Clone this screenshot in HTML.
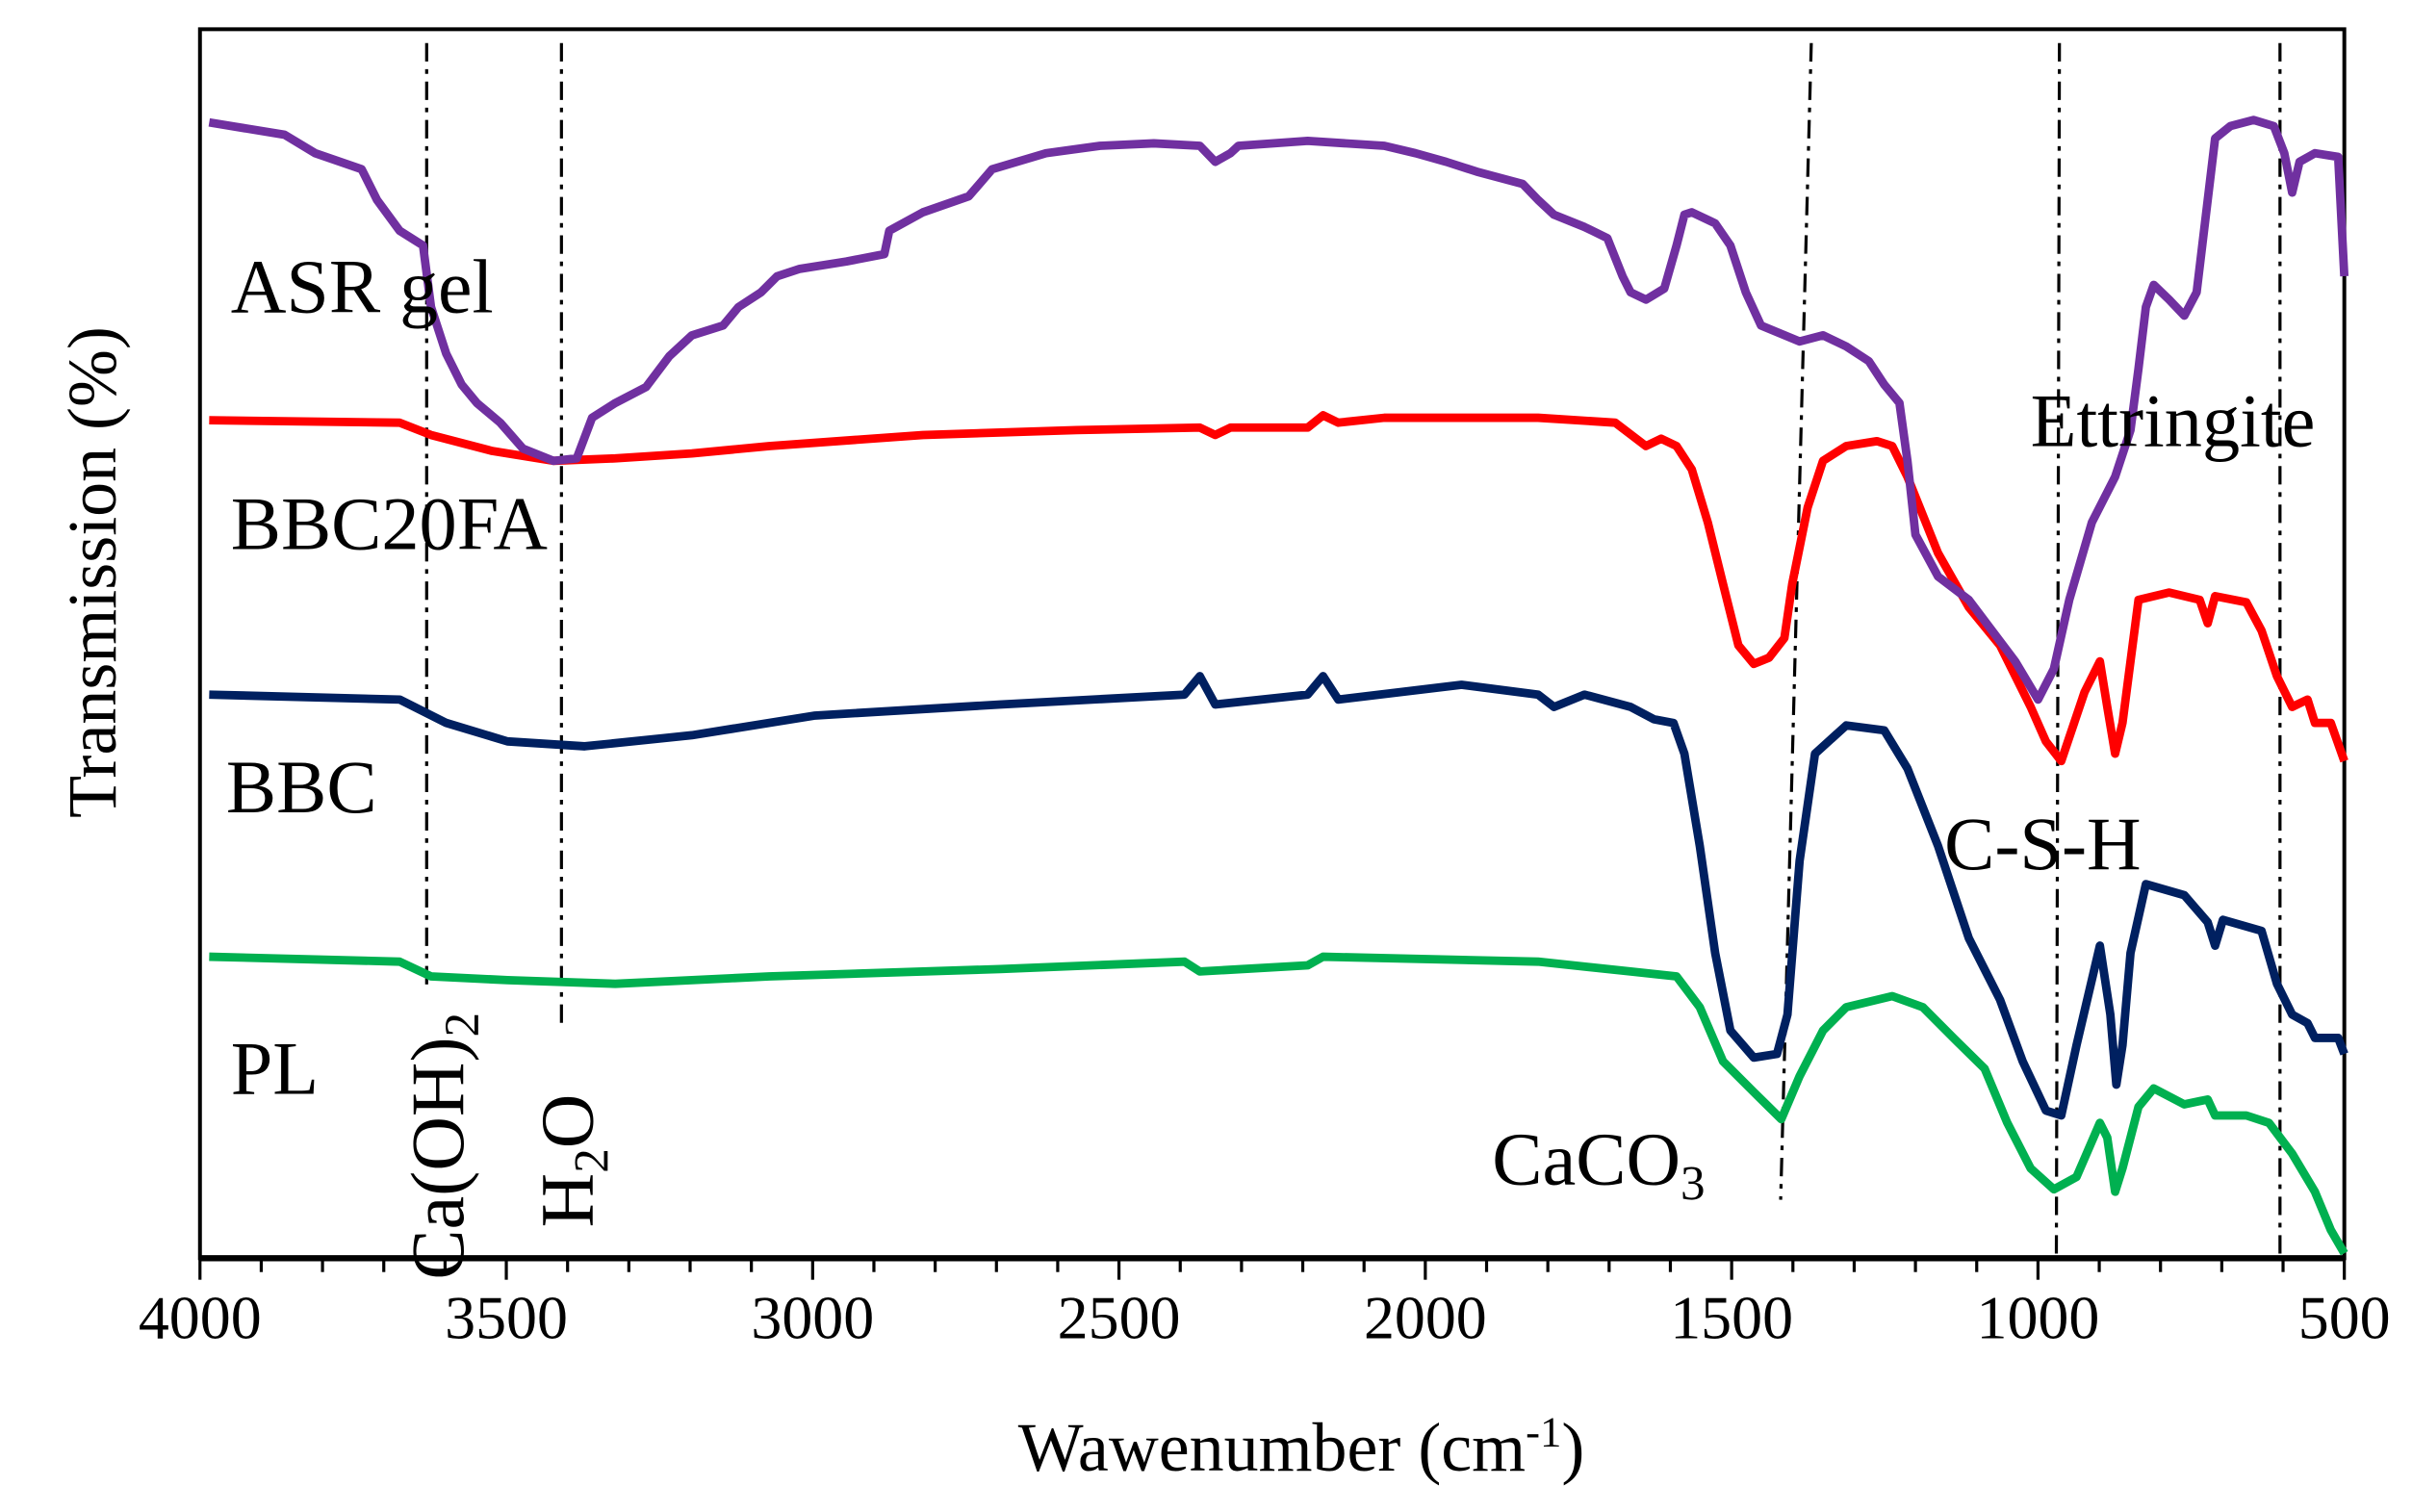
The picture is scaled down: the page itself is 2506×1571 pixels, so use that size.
<!DOCTYPE html>
<html><head><meta charset="utf-8"><style>
html,body{margin:0;padding:0;background:#fff;}
svg{display:block;}
text{font-family:"Liberation Serif",serif;fill:#000;}
</style></head><body>
<svg id="chart" width="2506" height="1571" viewBox="0 0 1568 983" preserveAspectRatio="none" xmlns="http://www.w3.org/2000/svg">
<rect x="130" y="19" width="1394" height="799" fill="none" stroke="#000" stroke-width="2.5"/>
<line x1="130" y1="818" x2="1524" y2="818" stroke="#000" stroke-width="4"/>
<g id="ticks"></g>
<g id="refs"></g>
<g id="series"></g>
<text x="150" y="203" font-size="50">ASR gel</text>
<text x="150" y="357" font-size="49">BBC20FA</text>
<text x="147" y="528" font-size="49">BBC</text>
<text x="150" y="711" font-size="49">PL</text>
<text x="1320" y="290" font-size="49">Ettringite</text>
<text x="1264" y="565" font-size="49">C-S-H</text>
<text x="970" y="770" font-size="49">CaCO<tspan font-size="32" dy="10">3</tspan></text>
<text transform="translate(301,832) rotate(-90)" font-size="49">Ca(OH)<tspan font-size="32" dy="10">2</tspan></text>
<text transform="translate(385,798) rotate(-90)" font-size="49">H<tspan font-size="32" dy="10">2</tspan><tspan dy="-10">O</tspan></text>
<text transform="translate(75,372) rotate(-90)" font-size="45" text-anchor="middle">Transmission (%)</text>
<text x="846" y="956" font-size="45" text-anchor="middle">Wawenumber (cm<tspan font-size="28" dy="-16">-1</tspan><tspan dy="16">)</tspan></text>
</svg>
<script>
const tickValues = [4000, 3500, 3000, 2500, 2000, 1500, 1000, 500];
const seriesNames = ["ASR gel", "BBC20FA", "BBC", "PL"];
const seriesColors = ["#7030A0", "#FF0000", "#002060", "#00B050"];
const asrWn = [3985,3862,3812,3736,3711,3674,3636,3623,3598,3573,3548,3510,3473,3423,3385,3360,3322,3272,3234,3197,3146,3121,3084,3058,3021,2945,2883,2875,2820,2745,2707,2619,2531,2443,2368,2343,2318,2305,2192,2067,2016,1966,1916,1841,1816,1790,1740,1703,1678,1665,1640,1610,1590,1577,1565,1527,1502,1477,1452,1389,1351,1313,1276,1251,1226,1213,1200,1163,1113,1075,1037,1000,974,949,912,874,849,836,824,811,786,761,741,723,711,686,648,615,598,585,573,548,510,500];
const asrT = [92.3,91.3,89.8,88.5,86,83.5,82.3,77.3,73.5,71,69.5,67.9,65.8,64.8,65,68.3,69.5,70.8,73.3,75,75.8,77.3,78.5,79.8,80.4,81,81.6,83.5,85,86.3,88.5,89.8,90.4,90.6,90.4,89.1,89.8,90.4,90.8,90.4,89.8,89.1,88.3,87.3,86,84.8,83.8,82.9,79.8,78.5,77.9,78.8,82.3,84.8,85,84.1,82.3,78.5,75.8,74.5,75,74.1,72.9,71,69.5,64.8,58.8,55.4,53.5,51,48.5,45.4,47.9,53.5,59.8,63.5,67.3,72.3,77.3,79.1,77.9,76.6,78.5,86,91,92,92.5,92,89.8,86.6,89.1,89.8,89.5,79.8];
const fa20Wn = [3985,3674,3623,3523,3423,3322,3197,3071,2820,2569,2368,2343,2318,2192,2167,2142,2067,1941,1816,1690,1640,1615,1590,1565,1539,1514,1489,1464,1439,1414,1401,1376,1351,1313,1263,1238,1213,1163,1113,1062,1012,987,962,924,899,887,874,862,849,836,786,736,723,711,660,635,610,585,560,548,522,500];
const fa20T = [68.1,67.9,66.9,65.6,64.8,65,65.4,66,66.9,67.3,67.5,66.9,67.5,67.5,68.5,67.9,68.3,68.3,68.3,67.9,66,66.6,66,64.1,59.8,54.8,49.8,48.3,48.8,50.4,54.8,61,64.8,66,66.4,66,63.5,57.3,52.9,49.8,44.8,42,40.4,46,48.5,44.8,41,43.5,48.5,53.5,54.1,53.5,51.6,53.8,53.3,51,47.3,44.8,45.4,43.5,43.5,40.4];
const bbcWn = [3985,3674,3598,3498,3372,3197,2996,2694,2393,2368,2343,2192,2167,2142,1941,1816,1790,1740,1665,1627,1595,1577,1552,1527,1502,1464,1426,1409,1389,1364,1313,1251,1213,1163,1113,1062,1025,987,962,937,899,882,872,862,849,824,761,723,711,698,635,610,585,560,548,510,500];
const bbcT = [45.8,45.4,43.5,42,41.6,42.5,44.1,45,45.8,47.3,45,45.8,47.3,45.4,46.6,45.8,44.8,45.8,44.8,43.8,43.5,41,33.5,24.8,18.5,16.3,16.6,19.8,32.3,41,43.3,42.9,39.8,33.5,26,21,16,12,11.6,17.3,25.4,19.8,14.1,17.3,24.8,30.4,29.5,27.3,25.4,27.5,26.6,22.3,19.8,19.1,17.9,17.9,16.6];
const plWn = [3985,3674,3623,3498,3322,3071,2694,2393,2368,2192,2167,1816,1665,1590,1552,1514,1464,1419,1389,1351,1313,1238,1188,1138,1087,1050,1012,974,937,899,887,874,862,836,811,761,723,711,660,623,585,548,522,500];
const plT = [24.5,24.1,22.9,22.6,22.3,22.9,23.5,24.1,23.3,23.8,24.5,24.1,23.3,22.9,20.4,16,13.5,11.3,14.8,18.5,20.4,21.3,20.4,17.9,15.4,11,7.3,5.6,6.6,11,9.8,5.4,7.3,12.3,13.8,12.5,12.9,11.6,11.6,11,8.5,5.4,2.3,0.4];
const refTopWn = [3630, 3410, 1370, 965, 605];
const refBottomWn = [3630, 3410, 1420, 970, 605];
const refNames = ["ref-line-caoh2", "ref-line-h2o", "ref-line-caco3", "ref-line-csh", "ref-line-ettringite"];

const NS = "http://www.w3.org/2000/svg";
function xs(wn){ return 130 + (4000 - wn) / 3500 * 1394; }
function ys(t){ return 818 - t * 8; }

const tg = document.getElementById('ticks');
for (let w = 4000; w >= 500; w -= 100) {
  const l = document.createElementNS(NS, 'line');
  const major = w % 500 === 0;
  l.setAttribute('x1', xs(w)); l.setAttribute('x2', xs(w));
  l.setAttribute('y1', 818); l.setAttribute('y2', major ? 832 : 827);
  l.setAttribute('stroke', '#000'); l.setAttribute('stroke-width', '2');
  
  
  tg.appendChild(l);
}
tickValues.forEach(v => {
  const t = document.createElementNS(NS, 'text');
  t.setAttribute('x', xs(v)); t.setAttribute('y', 870);
  t.setAttribute('font-size', '40'); t.setAttribute('text-anchor', 'middle');
  t.textContent = v;
  
  
  tg.appendChild(t);
});

const rg = document.getElementById('refs');
refTopWn.forEach((w, i) => {
  const l = document.createElementNS(NS, 'line');
  l.setAttribute('x1', xs(w)); l.setAttribute('y1', 28);
  l.setAttribute('x2', xs(refBottomWn[i])); l.setAttribute('y2', i === 0 ? 640 : (i === 1 ? 670 : (i === 2 ? 780 : 815)));
  l.setAttribute('stroke', '#000'); l.setAttribute('stroke-width', '2');
  l.setAttribute('stroke-dasharray', '12 5 3 5');
  
  
  rg.appendChild(l);
});

const sg = document.getElementById('series');
const allWn = [asrWn, fa20Wn, bbcWn, plWn];
const allT = [asrT, fa20T, bbcT, plT];
const sNames = ["series-asr-gel", "series-bbc20fa", "series-bbc", "series-pl"];
[3, 2, 1, 0].forEach(i => {
  const p = document.createElementNS(NS, 'path');
  const d = allWn[i].map((w, k) => (k ? 'L' : 'M') + xs(w).toFixed(1) + ' ' + ys(allT[i][k]).toFixed(1)).join(' ');
  p.setAttribute('d', d);
  p.setAttribute('fill', 'none');
  p.setAttribute('stroke', seriesColors[i]);
  p.setAttribute('stroke-width', '5.5');
  p.setAttribute('stroke-linejoin', 'round');
  
  
  sg.appendChild(p);
});
</script>
</body></html>
